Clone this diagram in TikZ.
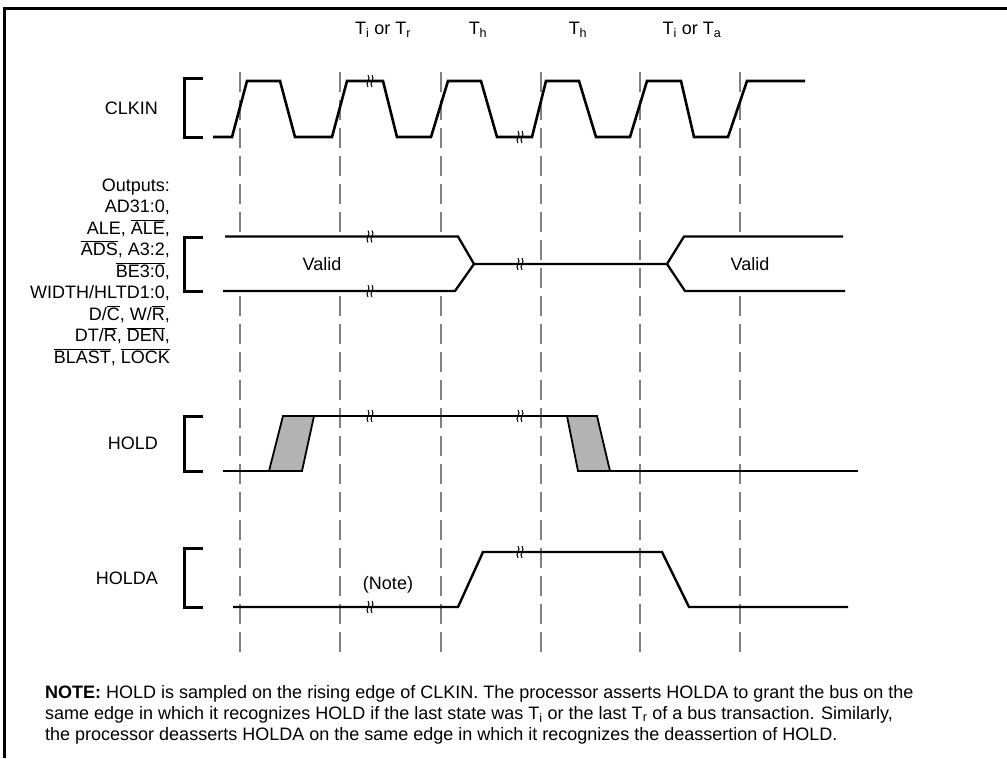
\documentclass[tikz,border=0pt]{standalone}
\usepackage{fontspec}
\setmainfont{Liberation Sans}
\definecolor{gridgrey}{HTML}{808080}
\definecolor{shadegrey}{HTML}{B3B3B3}
\newcommand{\ovl}[1]{$\overline{\hbox{#1}}$}
\begin{document}
\begin{tikzpicture}[x=1pt,y=-1pt,
  clk/.style={line width=2.6pt, line join=miter},
  bus/.style={line width=2.3pt, line join=miter},
  holdsig/.style={line width=1.8pt},
  holdasig/.style={line width=2.4pt, line join=miter},
  brkt/.style={line width=3pt},
  gridline/.style={draw=gridgrey, line width=1.4pt, dash pattern=on 20pt off 8pt},
  lbl/.style={font=\fontsize{18}{21.5}\selectfont, inner sep=0pt},
  shadebox/.style={fill=shadegrey, draw=black, line width=1.8pt, line join=miter},
  brk/.pic={
    \draw[line width=1pt] (-2,-6) .. controls (1.5,-2) and (-5.5,2) .. (-2,6);
    \draw[line width=1pt] (2,-6) .. controls (5.5,-2) and (-1.5,2) .. (2,6);
  }]
\useasboundingbox (0,0) rectangle (1007,758);
% frame
\draw[line width=2.6pt] (4.5,758) -- (4.5,8.5) -- (1007,8.5);
% grid lines
\foreach \x in {240,340,441,541,640,740} \draw[gridline] (\x,72) -- (\x,655);
% top labels
\node[lbl] (t1) at (383,30) {T\textsubscript{i} or T\textsubscript{r}};
\node[lbl] (t2) at (478,30) {T\textsubscript{h}};
\node[lbl] (t3) at (578,30) {T\textsubscript{h}};
\node[lbl] (t4) at (692,30) {T\textsubscript{i} or T\textsubscript{a}};
% CLKIN
\node[lbl, anchor=east] (lclk) at (158,108) {CLKIN};
\draw[brkt] (203,78.5) -- (184,78.5) -- (184,137.5) -- (203,137.5);
\draw[clk] (213,137) -- (232,137) -- (247,81) -- (280,81) -- (295,137) -- (332,137) -- (347,81) -- (383,81) -- (397,137) -- (431,137) -- (448,81) -- (481,81) -- (497,137) -- (532,137) -- (546,81) -- (579,81) -- (596,137) -- (630,137) -- (647,81) -- (681,81) -- (694,137) -- (728,137) -- (747,81) -- (805,81);
\pic at (370,81) {brk};
\pic at (520,137) {brk};
% Outputs
\node[lbl, anchor=base east] (o1) at (170,191) {Outputs:};
\node[lbl, anchor=base east] (o2) at (170,212.5) {AD31:0,};
\node[lbl, anchor=base east] (o3) at (170,234) {ALE, \ovl{ALE},};
\node[lbl, anchor=base east] (o4) at (170,255.5) {\ovl{ADS}, A3:2,};
\node[lbl, anchor=base east] (o5) at (170,277) {\ovl{BE3:0},};
\node[lbl, anchor=base east] (o6) at (170,298.5) {WIDTH/HLTD1:0,};
\node[lbl, anchor=base east] (o7) at (170,320) {D/\ovl{C}, W/\ovl{R},};
\node[lbl, anchor=base east] (o8) at (170,341.5) {DT/\ovl{R}, \ovl{DEN},};
\node[lbl, anchor=base east] (o9) at (170,363) {\ovl{BLAST}, \ovl{LOCK}};
\draw[brkt] (203,237.5) -- (184,237.5) -- (184,291) -- (203,291);
\fill[white] (224,236.5) -- (458,236.5) -- (474,264) -- (455,291) -- (223,291) -- cycle;
\fill[white] (667,264) -- (684,236.5) -- (843,236.5) -- (845,291) -- (685,291) -- cycle;
\draw[bus] (225,236.5) -- (458,236.5) -- (474,264) -- (667,264) -- (684,236.5) -- (843,236.5);
\draw[bus] (223,291) -- (455,291) -- (474,264);
\draw[bus] (667,264) -- (685,291) -- (845,291);
\pic at (370,236.5) {brk};
\pic at (370,291) {brk};
\pic at (520,264) {brk};
\node[lbl] (v1) at (322,264) {Valid};
\node[lbl] (v2) at (750,264) {Valid};
% HOLD
\node[lbl, anchor=east] (lhold) at (158,443.5) {HOLD};
\draw[brkt] (203,416) -- (184,416) -- (184,471) -- (203,471);
\draw[holdsig] (223,471) -- (269,471);
\draw[holdsig] (283,416) -- (597,416);
\draw[holdsig] (610,471) -- (858,471);
\filldraw[shadebox] (269,471) -- (283,416) -- (314,416) -- (302,471) -- cycle;
\filldraw[shadebox] (567,416) -- (597,416) -- (610,471) -- (578,471) -- cycle;
\pic at (370,416) {brk};
\pic at (520,416) {brk};
% HOLDA
\node[lbl, anchor=east] (lholda) at (158,578) {HOLDA};
\draw[brkt] (203,548) -- (184,548) -- (184,607) -- (203,607);
\draw[holdasig] (233,607) -- (458,607) -- (483,552) -- (662,552) -- (689,607) -- (848,607);
\pic at (370,607) {brk};
\pic at (520,552) {brk};
\node[lbl] (nt) at (388,585) {(Note)};
% note
\node[lbl, anchor=base west] (n1) at (45,698) {\textbf{NOTE:} HOLD is sampled on the rising edge of CLKIN. The processor asserts HOLDA to grant the bus on the};
\node[lbl, anchor=base west] (n2) at (45,719) {same edge in which it recognizes HOLD if the last state was T\textsubscript{i} or the last T\textsubscript{r} of a bus transaction. Similarly,};
\node[lbl, anchor=base west] (n3) at (45,740) {the processor deasserts HOLDA on the same edge in which it recognizes the deassertion of HOLD.};
\end{tikzpicture}
\end{document}
